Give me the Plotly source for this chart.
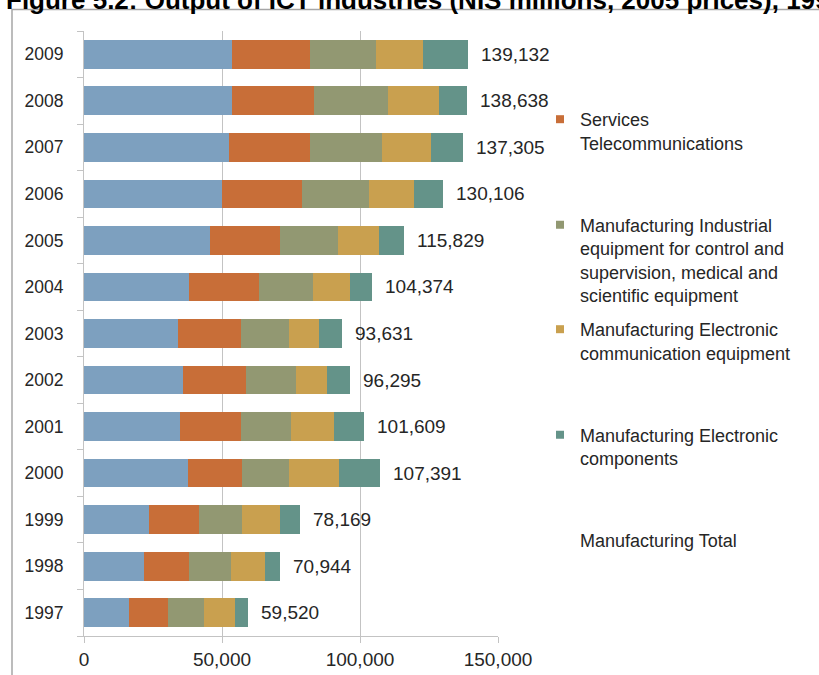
import plotly.graph_objects as go

# Output of ICT industries, NIS millions at 2005 prices
years = ["1997", "1998", "1999", "2000", "2001", "2002", "2003",
         "2004", "2005", "2006", "2007", "2008", "2009"]

services_computer = [16165, 21905, 23710, 37500, 34850, 35745, 33950,
                     37920, 45540, 50140, 52410, 53530, 53510]
services_telecom = [14440, 16235, 17790, 19910, 21860, 23090, 23070,
                    25400, 25440, 28990, 29575, 29860, 28270]
mfg_industrial = [13005, 15005, 15760, 16960, 18320, 18125, 17110,
                  19690, 21080, 24290, 25896, 26840, 24125]
mfg_comm_equipment = [11240, 12350, 13800, 17840, 15655, 11055, 11020,
                      13230, 14790, 16280, 17905, 18216, 16810]
mfg_components = [4670, 5449, 7109, 15181, 10924, 8280, 8481,
                  8134, 8979, 10406, 11519, 10192, 16417]
totals = [59520, 70944, 78169, 107391, 101609, 96295, 93631,
          104374, 115829, 130106, 137305, 138638, 139132]

series_names = [
    "Services Computer services",
    "Services<br>Telecommunications",
    "Manufacturing Industrial<br>equipment for control and<br>supervision, medical and<br>scientific equipment",
    "Manufacturing Electronic<br>communication equipment",
    "Manufacturing Electronic<br>components",
]
series_values = [services_computer, services_telecom, mfg_industrial,
                 mfg_comm_equipment, mfg_components]
colors = ["#7DA0BF", "#C86E38", "#929872", "#C9A04F", "#649389"]
total_name = "Manufacturing Total"

W, H = 819, 675
ML, MR, MT, MB = 84, 321, 31, 39
PW, PH = W - ML - MR, H - MT - MB


def px2x(px):
    return (px - ML) / PW


def px2y(py):
    return (H - MB - py) / PH


TEXT = "#262626"
GRID = "#c3c3c3"
FONT = "Liberation Sans, Arial"

fig = go.Figure()

for name, vals, col in zip(series_names, series_values, colors):
    fig.add_trace(go.Bar(
        y=years, x=vals, orientation="h", name=name.replace("<br>", " "),
        marker=dict(color=col, line=dict(width=0)), showlegend=False,
    ))

# legend entries (one legend box per entry so each can sit at its own height)
legend_tops = [101, 206.5, 311, 416.5, 521.5]
legend_ids = ["legend", "legend2", "legend3", "legend4", "legend5"]
entries = list(zip(series_names[1:], colors[1:])) + [(total_name, "rgba(0,0,0,0)")]
for (name, col), lid in zip(entries, legend_ids):
    fig.add_trace(go.Scatter(
        x=[None], y=[None], mode="markers", name=name, legend=lid,
        marker=dict(symbol="square", size=8, color=col, line=dict(width=0)),
        showlegend=True, hoverinfo="skip",
    ))

legend_common = dict(
    xanchor="left", yanchor="top", bgcolor="rgba(0,0,0,0)",
    font=dict(family=FONT, size=18, color=TEXT),
    valign="top", borderwidth=0,
)
legend_layout = {}
for lid, top in zip(legend_ids, legend_tops):
    legend_layout[lid] = dict(x=px2x(540), y=px2y(top), **legend_common)

# total value printed just past the end of each stacked bar
annotations = []
for i, tot in enumerate(totals):
    annotations.append(dict(
        x=tot, y=i, xref="x", yref="y", text=f"{tot:,}", showarrow=False,
        xanchor="left", yanchor="middle", xshift=11,
        font=dict(family=FONT, size=19, color=TEXT),
    ))

annotations.append(dict(
    x=px2x(4), y=px2y(17), xref="paper", yref="paper", showarrow=False,
    xanchor="left", yanchor="bottom",
    text="<b>Figure 5.2: Output of ICT industries (NIS millions, 2005 prices), 1997-2009</b>",
    font=dict(family=FONT, size=26, color="#000000"),
))

shapes = [dict(
    type="rect", xref="paper", yref="paper",
    x0=px2x(12), x1=px2x(840), y0=px2y(9.5), y1=px2y(700),
    line=dict(color="#a6a6a6", width=1.5), fillcolor="rgba(0,0,0,0)",
    layer="above",
)]

fig.update_layout(
    width=W, height=H, barmode="stack", bargap=0.383,
    margin=dict(l=ML, r=MR, t=MT, b=MB, pad=0, autoexpand=False),
    paper_bgcolor="white", plot_bgcolor="white",
    font=dict(family=FONT, color=TEXT),
    xaxis=dict(
        range=[0, 150000], dtick=50000, tickformat=",", showgrid=True,
        gridcolor=GRID, gridwidth=1, zeroline=False, showline=True,
        linecolor=GRID, linewidth=1, ticks="outside", ticklen=6,
        tickcolor=GRID, tickfont=dict(size=19, color=TEXT),
        automargin=False,
    ),
    yaxis=dict(
        type="category", categoryorder="array", categoryarray=years,
        range=[-0.5, len(years) - 0.5], autorange=False,
        showgrid=False, zeroline=False, showline=True,
        linecolor=GRID, linewidth=1, ticks="outside", ticklen=6,
        tickcolor=GRID, tickson="boundaries", ticklabelstandoff=16,
        tickfont=dict(size=17.5, color=TEXT), automargin=False,
    ),
    annotations=annotations, shapes=shapes,
    **legend_layout,
)

fig.write_html("out.html")
